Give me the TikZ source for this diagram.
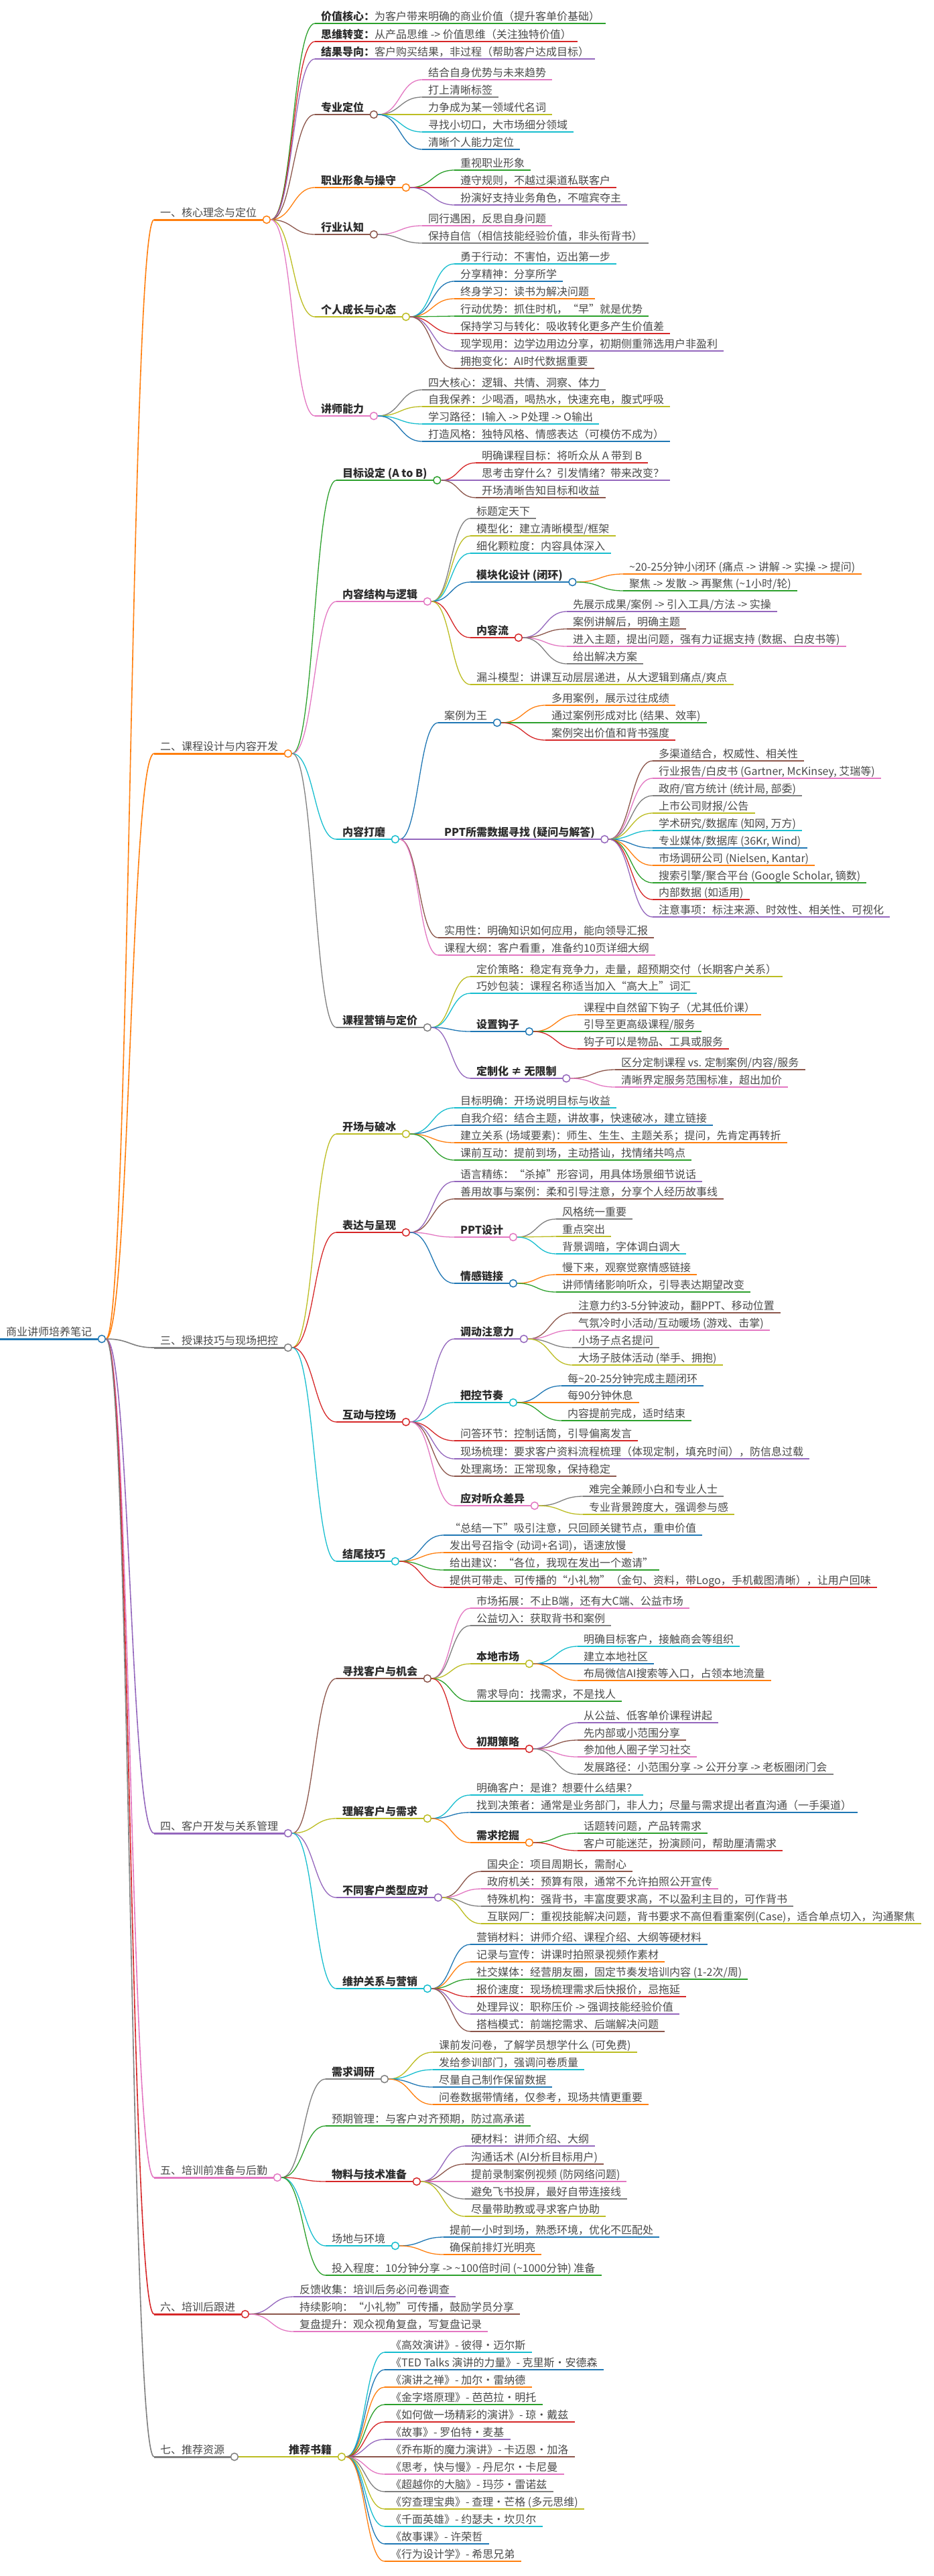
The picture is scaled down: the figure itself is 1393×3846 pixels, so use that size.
\documentclass[tikz,border=0pt]{standalone}
\usepackage{fontspec}
\setmainfont{Noto Sans CJK SC}
\usetikzlibrary{calc}
\definecolor{cB}{HTML}{1F77B4}
\definecolor{cO}{HTML}{FF7F0E}
\definecolor{cG}{HTML}{2CA02C}
\definecolor{cR}{HTML}{D62728}
\definecolor{cP}{HTML}{9467BD}
\definecolor{cN}{HTML}{8C564B}
\definecolor{cK}{HTML}{E377C2}
\definecolor{cY}{HTML}{7F7F7F}
\definecolor{cL}{HTML}{BCBD22}
\definecolor{cC}{HTML}{17BECF}
\definecolor{txt}{HTML}{4A4A4A}
\definecolor{txtb}{HTML}{2B2B2B}
\tikzset{
  mmtext/.style={font=\fontsize{16}{16}\selectfont, text=txt, inner xsep=9pt, inner ysep=0pt, text height=13pt, text depth=4pt},
  mmbold/.style={mmtext, font=\fontsize{16}{16}\selectfont\bfseries, text=txtb},
  mmline/.style={line width=2.2pt},
  mmtopline/.style={line width=3pt},
  mmedge/.style={line width=1.3pt},
  mmcirc/.style={circle, fill=white, line width=1.5pt, minimum size=11pt, inner sep=0pt},
}
% #1 name, #2 parent, #3 x, #4 y, #5 colour, #6 node style, #7 text
\newcommand{\mi}[7]{%
  \node[#6, anchor=south west] (#1) at (#3,#4) {#7};
  \draw[mmline, draw=#5] (#1.south west) -- (#1.south east);
  \draw[mmedge, draw=#5] let \p1=(#2c.east), \p2=(#1.south west) in
    (\p1) .. controls ({(\x1+\x2)/2},\y1) and ({(\x1+\x2)/2},\y2) .. (\p2);
}
\newcommand{\mtop}[5]{%
  \node[mmtext, anchor=south west] (#1) at (#2,#3) {#5};
  \draw[mmtopline, draw=#4] (#1.south west) -- (#1.south east);
  \draw[mmedge, line width=1.6pt, draw=#4] let \p1=(rootc.east), \p2=(#1.south west) in
    (\p1) .. controls ({(\x1+\x2)/2},\y1) and ({(\x1+\x2)/2},\y2) .. (\p2);
}
\newcommand{\md}[2]{\node[mmcirc, draw=#2] (#1c) at ([xshift=5.5pt]#1.south east) {};}
\newcommand{\bp}[1]{{\color{txtb}\bfseries #1}}
\begin{document}
\begin{tikzpicture}[x=1pt,y=-1pt]
\useasboundingbox (0,0) rectangle (1393,3846);
\fill[white] (0,0) rectangle (1393,3846);

% root
\node[mmtext, anchor=south west] (root) at (0,1999) {商业讲师培养笔记};
\draw[mmtopline, draw=cB] (root.south west) -- (root.south east);
\md{root}{cB}

% level 1
\mtop{La}{230}{328}{cO}{一、核心理念与定位}\md{La}{cO}
\mtop{Lb}{230}{1125}{cO}{二、课程设计与内容开发}\md{Lb}{cO}
\mtop{Lc}{230}{2012}{cY}{三、授课技巧与现场把控}\md{Lc}{cY}
\mtop{Ld}{230}{2737}{cP}{四、客户开发与关系管理}\md{Ld}{cP}
\mtop{Le}{230}{3251}{cK}{五、培训前准备与后勤}\md{Le}{cK}
\mtop{Lf}{230}{3455}{cR}{六、培训后跟进}\md{Lf}{cR}
\mtop{Lg}{230}{3668}{cY}{七、推荐资源}\md{Lg}{cY}

% ---------- 一 ----------
\mi{a1}{La}{470}{35}{cG}{mmtext}{\bp{价值核心：}为客户带来明确的商业价值（提升客单价基础）}
\mi{a2}{La}{470}{62}{cR}{mmtext}{\bp{思维转变：}从产品思维 -> 价值思维（关注独特价值）}
\mi{a3}{La}{470}{88}{cP}{mmtext}{\bp{结果导向：}客户购买结果，非过程（帮助客户达成目标）}
\mi{a4}{La}{470}{171}{cN}{mmbold}{专业定位}\md{a4}{cN}
\mi{a41}{a4}{630}{119}{cK}{mmtext}{结合自身优势与未来趋势}
\mi{a42}{a4}{630}{145}{cY}{mmtext}{打上清晰标签}
\mi{a43}{a4}{630}{171}{cL}{mmtext}{力争成为某一领域代名词}
\mi{a44}{a4}{630}{197}{cC}{mmtext}{寻找小切口，大市场细分领域}
\mi{a45}{a4}{630}{223}{cB}{mmtext}{清晰个人能力定位}
\mi{a5}{La}{470}{280}{cO}{mmbold}{职业形象与操守}\md{a5}{cO}
\mi{a51}{a5}{678}{254}{cG}{mmtext}{重视职业形象}
\mi{a52}{a5}{678}{280}{cR}{mmtext}{遵守规则，不越过渠道私联客户}
\mi{a53}{a5}{678}{306}{cP}{mmtext}{扮演好支持业务角色，不喧宾夺主}
\mi{a6}{La}{470}{350}{cN}{mmbold}{行业认知}\md{a6}{cN}
\mi{a61}{a6}{630}{337}{cK}{mmtext}{同行遇困，反思自身问题}
\mi{a62}{a6}{630}{363}{cY}{mmtext}{保持自信（相信技能经验价值，非头衔背书）}
\mi{a7}{La}{470}{473}{cL}{mmbold}{个人成长与心态}\md{a7}{cL}
\mi{a71}{a7}{678}{394}{cC}{mmtext}{勇于行动：不害怕，迈出第一步}
\mi{a72}{a7}{678}{420}{cB}{mmtext}{分享精神：分享所学}
\mi{a73}{a7}{678}{446}{cO}{mmtext}{终身学习：读书为解决问题}
\mi{a74}{a7}{678}{472}{cG}{mmtext}{行动优势：抓住时机，“早”就是优势}
\mi{a75}{a7}{678}{498}{cR}{mmtext}{保持学习与转化：吸收转化更多产生价值差}
\mi{a76}{a7}{678}{524}{cP}{mmtext}{现学现用：边学边用边分享，初期侧重筛选用户非盈利}
\mi{a77}{a7}{678}{550}{cN}{mmtext}{拥抱变化：AI时代数据重要}
\mi{a8}{La}{470}{621}{cK}{mmbold}{讲师能力}\md{a8}{cK}
\mi{a81}{a8}{630}{582}{cY}{mmtext}{四大核心：逻辑、共情、洞察、体力}
\mi{a82}{a8}{630}{607}{cL}{mmtext}{自我保养：少喝酒，喝热水，快速充电，腹式呼吸}
\mi{a83}{a8}{630}{633}{cC}{mmtext}{学习路径：I输入 -> P处理 -> O输出}
\mi{a84}{a8}{630}{659}{cB}{mmtext}{打造风格：独特风格、情感表达（可模仿不成为）}

% ---------- 二 ----------
\mi{b1}{Lb}{502}{717}{cG}{mmbold}{目标设定 (A to B)}\md{b1}{cG}
\mi{b11}{b1}{710}{691}{cR}{mmtext}{明确课程目标：将听众从 A 带到 B}
\mi{b12}{b1}{710}{717}{cP}{mmtext}{思考击穿什么？引发情绪？带来改变？}
\mi{b13}{b1}{710}{743}{cN}{mmtext}{开场清晰告知目标和收益}
\mi{b2}{Lb}{502}{898}{cK}{mmbold}{内容结构与逻辑}\md{b2}{cK}
\mi{b21}{b2}{702}{774}{cY}{mmtext}{标题定天下}
\mi{b22}{b2}{702}{800}{cL}{mmtext}{模型化：建立清晰模型/框架}
\mi{b23}{b2}{702}{826}{cC}{mmtext}{细化颗粒度：内容具体深入}
\mi{b24}{b2}{702}{869}{cB}{mmbold}{模块化设计 (闭环)}\md{b24}{cB}
\mi{b241}{b24}{930}{857}{cO}{mmtext}{\textasciitilde 20-25分钟小闭环 (痛点 -> 讲解 -> 实操 -> 提问)}
\mi{b242}{b24}{930}{882}{cG}{mmtext}{聚焦 -> 发散 -> 再聚焦 (\textasciitilde 1小时/轮)}
\mi{b25}{b2}{702}{952}{cR}{mmbold}{内容流}\md{b25}{cR}
\mi{b251}{b25}{846}{913}{cP}{mmtext}{先展示成果/案例 -> 引入工具/方法 -> 实操}
\mi{b252}{b25}{846}{939}{cN}{mmtext}{案例讲解后，明确主题}
\mi{b253}{b25}{846}{965}{cK}{mmtext}{进入主题，提出问题，强有力证据支持 (数据、白皮书等)}
\mi{b254}{b25}{846}{991}{cY}{mmtext}{给出解决方案}
\mi{b26}{b2}{702}{1022}{cL}{mmtext}{漏斗模型：讲课互动层层递进，从大逻辑到痛点/爽点}
\mi{b3}{Lb}{502}{1253}{cC}{mmbold}{内容打磨}\md{b3}{cC}
\mi{b31}{b3}{654}{1079}{cB}{mmtext}{案例为王}\md{b31}{cB}
\mi{b311}{b31}{814}{1053}{cO}{mmtext}{多用案例，展示过往成绩}
\mi{b312}{b31}{814}{1079}{cG}{mmtext}{通过案例形成对比 (结果、效率)}
\mi{b313}{b31}{814}{1105}{cR}{mmtext}{案例突出价值和背书强度}
\mi{b32}{b3}{654}{1253}{cP}{mmbold}{PPT所需数据寻找 (疑问与解答)}\md{b32}{cP}
\mi{b321}{b32}{974}{1136}{cN}{mmtext}{多渠道结合，权威性、相关性}
\mi{b322}{b32}{974}{1162}{cK}{mmtext}{行业报告/白皮书 (Gartner, McKinsey, 艾瑞等)}
\mi{b323}{b32}{974}{1188}{cY}{mmtext}{政府/官方统计 (统计局, 部委)}
\mi{b324}{b32}{974}{1214}{cL}{mmtext}{上市公司财报/公告}
\mi{b325}{b32}{974}{1240}{cC}{mmtext}{学术研究/数据库 (知网, 万方)}
\mi{b326}{b32}{974}{1266}{cB}{mmtext}{专业媒体/数据库 (36Kr, Wind)}
\mi{b327}{b32}{974}{1292}{cO}{mmtext}{市场调研公司 (Nielsen, Kantar)}
\mi{b328}{b32}{974}{1318}{cG}{mmtext}{搜索引擎/聚合平台 (Google Scholar, 镝数)}
\mi{b329}{b32}{974}{1343}{cR}{mmtext}{内部数据 (如适用)}
\mi{b320}{b32}{974}{1369}{cP}{mmtext}{注意事项：标注来源、时效性、相关性、可视化}
\mi{b33}{b3}{654}{1400}{cN}{mmtext}{实用性：明确知识如何应用，能向领导汇报}
\mi{b34}{b3}{654}{1426}{cK}{mmtext}{课程大纲：客户看重，准备约10页详细大纲}
\mi{b4}{Lb}{502}{1534}{cY}{mmbold}{课程营销与定价}\md{b4}{cY}
\mi{b41}{b4}{702}{1458}{cL}{mmtext}{定价策略：稳定有竞争力，走量，超预期交付（长期客户关系）}
\mi{b42}{b4}{702}{1483}{cC}{mmtext}{巧妙包装：课程名称适当加入“高大上”词汇}
\mi{b43}{b4}{702}{1540}{cB}{mmbold}{设置钩子}\md{b43}{cB}
\mi{b431}{b43}{862}{1515}{cO}{mmtext}{课程中自然留下钩子（尤其低价课）}
\mi{b432}{b43}{862}{1540}{cG}{mmtext}{引导至更高级课程/服务}
\mi{b433}{b43}{862}{1566}{cR}{mmtext}{钩子可以是物品、工具或服务}
\mi{b44}{b4}{702}{1610}{cP}{mmbold}{定制化 ≠ 无限制}\md{b44}{cP}
\mi{b441}{b44}{918}{1597}{cN}{mmtext}{区分定制课程 vs. 定制案例/内容/服务}
\mi{b442}{b44}{918}{1623}{cK}{mmtext}{清晰界定服务范围标准，超出加价}

% ---------- 三 ----------
\mi{c1}{Lc}{502}{1693}{cL}{mmbold}{开场与破冰}\md{c1}{cL}
\mi{c11}{c1}{678}{1654}{cC}{mmtext}{目标明确：开场说明目标与收益}
\mi{c12}{c1}{678}{1680}{cB}{mmtext}{自我介绍：结合主题，讲故事，快速破冰，建立链接}
\mi{c13}{c1}{678}{1706}{cO}{mmtext}{建立关系 (场域要素)：师生、生生、主题关系；提问，先肯定再转折}
\mi{c14}{c1}{678}{1732}{cG}{mmtext}{课前互动：提前到场，主动搭讪，找情绪共鸣点}
\mi{c2}{Lc}{502}{1840}{cR}{mmbold}{表达与呈现}\md{c2}{cR}
\mi{c21}{c2}{678}{1764}{cP}{mmtext}{语言精练：“杀掉”形容词，用具体场景细节说话}
\mi{c22}{c2}{678}{1790}{cN}{mmtext}{善用故事与案例：柔和引导注意，分享个人经历故事线}
\mi{c23}{c2}{678}{1847}{cK}{mmbold}{PPT设计}\md{c23}{cK}
\mi{c231}{c23}{830}{1820}{cY}{mmtext}{风格统一重要}
\mi{c232}{c23}{830}{1846}{cL}{mmtext}{重点突出}
\mi{c233}{c23}{830}{1872}{cC}{mmtext}{背景调暗，字体调白调大}
\mi{c24}{c2}{678}{1916}{cB}{mmbold}{情感链接}\md{c24}{cB}
\mi{c241}{c24}{830}{1903}{cO}{mmtext}{慢下来，观察觉察情感链接}
\mi{c242}{c24}{830}{1929}{cG}{mmtext}{讲师情绪影响听众，引导表达期望改变}
\mi{c3}{Lc}{502}{2123}{cR}{mmbold}{互动与控场}\md{c3}{cR}
\mi{c31}{c3}{678}{1999}{cP}{mmbold}{调动注意力}\md{c31}{cP}
\mi{c311}{c31}{854}{1960}{cN}{mmtext}{注意力约3-5分钟波动，翻PPT、移动位置}
\mi{c312}{c31}{854}{1986}{cK}{mmtext}{气氛冷时小活动/互动暖场 (游戏、击掌)}
\mi{c313}{c31}{854}{2012}{cY}{mmtext}{小场子点名提问}
\mi{c314}{c31}{854}{2038}{cL}{mmtext}{大场子肢体活动 (举手、拥抱)}
\mi{c32}{c3}{678}{2094}{cC}{mmbold}{把控节奏}\md{c32}{cC}
\mi{c321}{c32}{838}{2069}{cB}{mmtext}{每\textasciitilde 20-25分钟完成主题闭环}
\mi{c322}{c32}{838}{2094}{cO}{mmtext}{每90分钟休息}
\mi{c323}{c32}{838}{2121}{cG}{mmtext}{内容提前完成，适时结束}
\mi{c33}{c3}{678}{2151}{cR}{mmtext}{问答环节：控制话筒，引导偏离发言}
\mi{c34}{c3}{678}{2178}{cP}{mmtext}{现场梳理：要求客户资料流程梳理（体现定制，填充时间），防信息过载}
\mi{c35}{c3}{678}{2204}{cN}{mmtext}{处理离场：正常现象，保持稳定}
\mi{c36}{c3}{678}{2248}{cK}{mmbold}{应对听众差异}\md{c36}{cK}
\mi{c361}{c36}{870}{2234}{cY}{mmtext}{难完全兼顾小白和专业人士}
\mi{c362}{c36}{870}{2261}{cL}{mmtext}{专业背景跨度大，强调参与感}
\mi{c4}{Lc}{502}{2331}{cC}{mmbold}{结尾技巧}\md{c4}{cC}
\mi{c41}{c4}{662}{2292}{cB}{mmtext}{“总结一下”吸引注意，只回顾关键节点，重申价值}
\mi{c42}{c4}{662}{2318}{cO}{mmtext}{发出号召指令 (动词+名词)，语速放慢}
\mi{c43}{c4}{662}{2344}{cG}{mmtext}{给出建议：“各位，我现在发出一个邀请”}
\mi{c44}{c4}{662}{2370}{cR}{mmtext}{提供可带走、可传播的“小礼物”（金句、资料，带Logo，手机截图清晰），让用户回味}

% ---------- 四 ----------
\mi{d1}{Ld}{502}{2506}{cN}{mmbold}{寻找客户与机会}\md{d1}{cN}
\mi{d11}{d1}{702}{2401}{cK}{mmtext}{市场拓展：不止B端，还有大C端、公益市场}
\mi{d12}{d1}{702}{2427}{cY}{mmtext}{公益切入：获取背书和案例}
\mi{d13}{d1}{702}{2484}{cL}{mmbold}{本地市场}\md{d13}{cL}
\mi{d131}{d13}{862}{2458}{cC}{mmtext}{明确目标客户，接触商会等组织}
\mi{d132}{d13}{862}{2484}{cB}{mmtext}{建立本地社区}
\mi{d133}{d13}{862}{2509}{cO}{mmtext}{布局微信AI搜索等入口，占领本地流量}
\mi{d14}{d1}{702}{2540}{cG}{mmtext}{需求导向：找需求，不是找人}
\mi{d15}{d1}{702}{2611}{cR}{mmbold}{初期策略}\md{d15}{cR}
\mi{d151}{d15}{862}{2572}{cP}{mmtext}{从公益、低客单价课程讲起}
\mi{d152}{d15}{862}{2598}{cN}{mmtext}{先内部或小范围分享}
\mi{d153}{d15}{862}{2623}{cK}{mmtext}{参加他人圈子学习社交}
\mi{d154}{d15}{862}{2649}{cY}{mmtext}{发展路径：小范围分享 -> 公开分享 -> 老板圈闭门会}
\mi{d2}{Ld}{502}{2715}{cL}{mmbold}{理解客户与需求}\md{d2}{cL}
\mi{d21}{d2}{702}{2680}{cC}{mmtext}{明确客户：是谁？想要什么结果？}
\mi{d22}{d2}{702}{2706}{cB}{mmtext}{找到决策者：通常是业务部门，非人力；尽量与需求提出者直沟通（一手渠道）}
\mi{d23}{d2}{702}{2751}{cO}{mmbold}{需求挖掘}\md{d23}{cO}
\mi{d231}{d23}{862}{2737}{cG}{mmtext}{话题转问题，产品转需求}
\mi{d232}{d23}{862}{2763}{cR}{mmtext}{客户可能迷茫，扮演顾问，帮助厘清需求}
\mi{d3}{Ld}{502}{2833}{cP}{mmbold}{不同客户类型应对}\md{d3}{cP}
\mi{d31}{d3}{718}{2794}{cN}{mmtext}{国央企：项目周期长，需耐心}
\mi{d32}{d3}{718}{2820}{cK}{mmtext}{政府机关：预算有限，通常不允许拍照公开宣传}
\mi{d33}{d3}{718}{2846}{cY}{mmtext}{特殊机构：强背书，丰富度要求高，不以盈利主目的，可作背书}
\mi{d34}{d3}{718}{2872}{cL}{mmtext}{互联网厂：重视技能解决问题，背书要求不高但看重案例(Case)，适合单点切入，沟通聚焦}
\mi{d4}{Ld}{502}{2969}{cC}{mmbold}{维护关系与营销}\md{d4}{cC}
\mi{d41}{d4}{702}{2903}{cB}{mmtext}{营销材料：讲师介绍、课程介绍、大纲等硬材料}
\mi{d42}{d4}{702}{2929}{cO}{mmtext}{记录与宣传：讲课时拍照录视频作素材}
\mi{d43}{d4}{702}{2955}{cG}{mmtext}{社交媒体：经营朋友圈，固定节奏发培训内容 (1-2次/周)}
\mi{d44}{d4}{702}{2981}{cR}{mmtext}{报价速度：现场梳理需求后快报价，忌拖延}
\mi{d45}{d4}{702}{3007}{cP}{mmtext}{处理异议：职称压价 -> 强调技能经验价值}
\mi{d46}{d4}{702}{3033}{cN}{mmtext}{搭档模式：前端挖需求、后端解决问题}

% ---------- 五 ----------
\mi{e1}{Le}{486}{3104}{cY}{mmbold}{需求调研}\md{e1}{cY}
\mi{e11}{e1}{646}{3064}{cL}{mmtext}{课前发问卷，了解学员想学什么 (可免费)}
\mi{e12}{e1}{646}{3090}{cC}{mmtext}{发给参训部门，强调问卷质量}
\mi{e13}{e1}{646}{3116}{cB}{mmtext}{尽量自己制作保留数据}
\mi{e14}{e1}{646}{3142}{cO}{mmtext}{问卷数据带情绪，仅参考，现场共情更重要}
\mi{e2}{Le}{486}{3174}{cG}{mmtext}{预期管理：与客户对齐预期，防过高承诺}
\mi{e3}{Le}{486}{3257}{cR}{mmbold}{物料与技术准备}\md{e3}{cR}
\mi{e31}{e3}{694}{3204}{cP}{mmtext}{硬材料：讲师介绍、大纲}
\mi{e32}{e3}{694}{3231}{cN}{mmtext}{沟通话术 (AI分析目标用户)}
\mi{e33}{e3}{694}{3257}{cK}{mmtext}{提前录制案例视频 (防网络问题)}
\mi{e34}{e3}{694}{3283}{cY}{mmtext}{避免飞书投屏，最好自带连接线}
\mi{e35}{e3}{694}{3309}{cL}{mmtext}{尽量带助教或寻求客户协助}
\mi{e4}{Le}{486}{3353}{cC}{mmtext}{场地与环境}\md{e4}{cC}
\mi{e41}{e4}{662}{3340}{cB}{mmtext}{提前一小时到场，熟悉环境，优化不匹配处}
\mi{e42}{e4}{662}{3366}{cO}{mmtext}{确保前排灯光明亮}
\mi{e5}{Le}{486}{3397}{cG}{mmtext}{投入程度：10分钟分享 -> \textasciitilde 100倍时间 (\textasciitilde 1000分钟) 准备}

% ---------- 六 ----------
\mi{f1}{Lf}{438}{3429}{cP}{mmtext}{反馈收集：培训后务必问卷调查}
\mi{f2}{Lf}{438}{3455}{cN}{mmtext}{持续影响：“小礼物”可传播，鼓励学员分享}
\mi{f3}{Lf}{438}{3481}{cK}{mmtext}{复盘提升：观众视角复盘，写复盘记录}

% ---------- 七 ----------
\mi{g1}{Lg}{422}{3668}{cL}{mmbold}{推荐书籍}\md{g1}{cL}
\mi{g11}{g1}{574}{3512}{cC}{mmtext}{《高效演讲》- 彼得·迈尔斯}
\mi{g12}{g1}{574}{3538}{cB}{mmtext}{《TED Talks 演讲的力量》- 克里斯·安德森}
\mi{g13}{g1}{574}{3564}{cO}{mmtext}{《演讲之禅》- 加尔·雷纳德}
\mi{g14}{g1}{574}{3590}{cG}{mmtext}{《金字塔原理》- 芭芭拉·明托}
\mi{g15}{g1}{574}{3616}{cR}{mmtext}{《如何做一场精彩的演讲》- 琼·戴兹}
\mi{g16}{g1}{574}{3642}{cP}{mmtext}{《故事》- 罗伯特·麦基}
\mi{g17}{g1}{574}{3668}{cN}{mmtext}{《乔布斯的魔力演讲》- 卡迈恩·加洛}
\mi{g18}{g1}{574}{3694}{cK}{mmtext}{《思考，快与慢》- 丹尼尔·卡尼曼}
\mi{g19}{g1}{574}{3720}{cY}{mmtext}{《超越你的大脑》- 玛莎·雷诺兹}
\mi{g10}{g1}{574}{3746}{cL}{mmtext}{《穷查理宝典》- 查理·芒格 (多元思维)}
\mi{g1a}{g1}{574}{3772}{cC}{mmtext}{《千面英雄》- 约瑟夫·坎贝尔}
\mi{g1b}{g1}{574}{3798}{cB}{mmtext}{《故事课》- 许荣哲}
\mi{g1d}{g1}{574}{3824}{cO}{mmtext}{《行为设计学》- 希思兄弟}
\end{tikzpicture}
\end{document}
